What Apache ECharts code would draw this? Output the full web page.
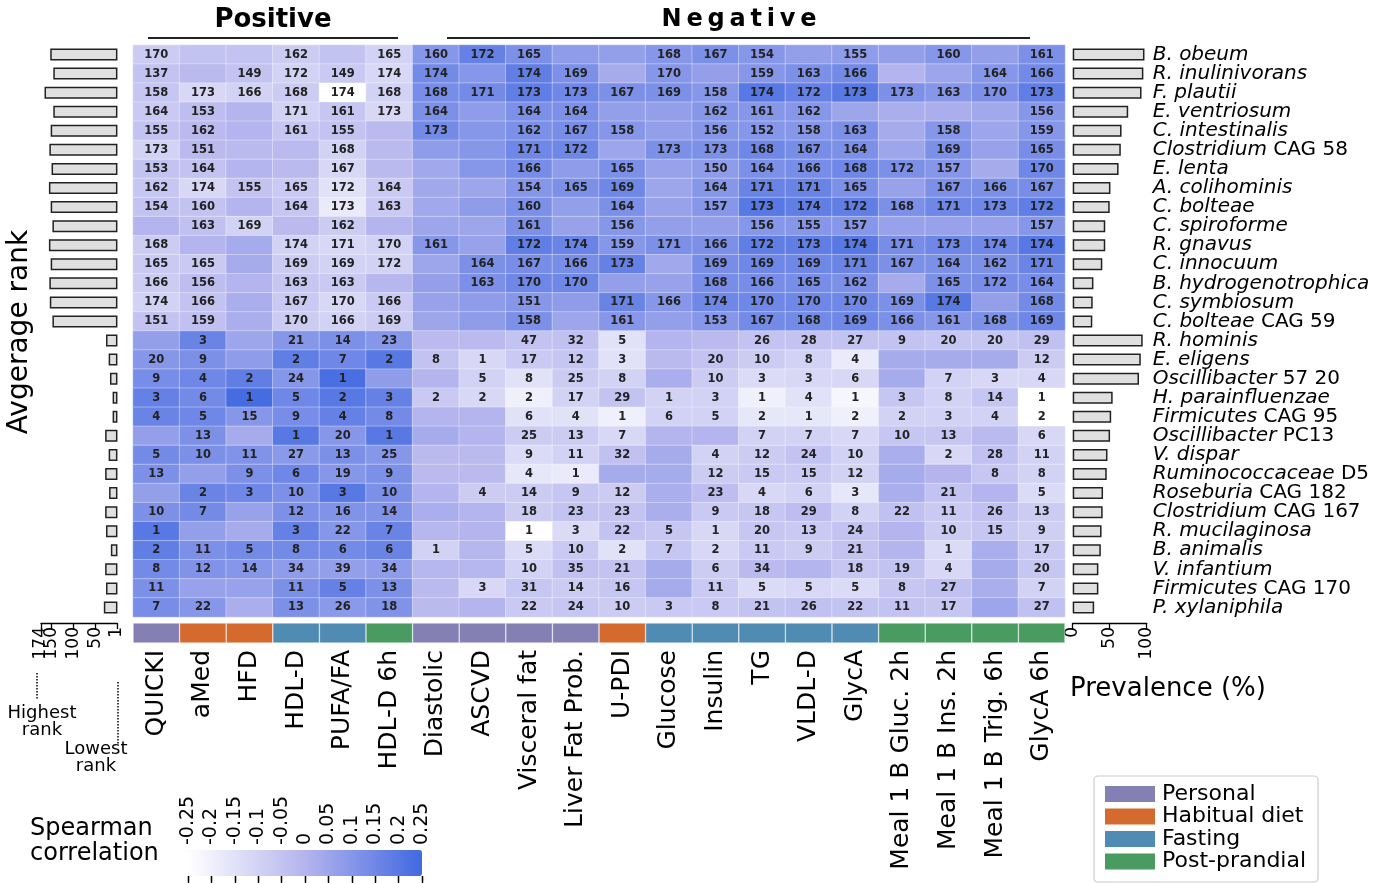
<!DOCTYPE html>
<html>
<head>
<meta charset="utf-8">
<script src="https://cdn.jsdelivr.net/npm/echarts@6/dist/echarts.min.js"></script>
<style>
html, body { margin: 0; padding: 0; background: #fff; }
#chart { width: 1387px; height: 883px; }
</style>
</head>
<body>
<div id="chart"></div>
<script>
const traits = ['QUICKI', 'aMed', 'HFD', 'HDL-D', 'PUFA/FA', 'HDL-D 6h', 'Diastolic', 'ASCVD',
    'Visceral fat', 'Liver Fat Prob.', 'U-PDI', 'Glucose', 'Insulin', 'TG', 'VLDL-D', 'GlycA',
    'Meal 1 B Gluc. 2h', 'Meal 1 B Ins. 2h', 'Meal 1 B Trig. 6h', 'GlycA 6h'];
// 0 personal, 1 habitual diet, 2 fasting, 3 post-prandial
const traitGroups = [0, 1, 1, 2, 2, 3, 0, 0, 0, 0, 1, 2, 2, 2, 2, 2, 3, 3, 3, 3];
const groupNames = ['Personal', 'Habitual diet', 'Fasting', 'Post-prandial'];
const groupColors = ['#8580b4', '#d56a2e', '#4f8bb2', '#4a9b62'];

const speciesItalic = ['B. obeum', 'R. inulinivorans', 'F. plautii', 'E. ventriosum', 'C. intestinalis',
    'Clostridium', 'E. lenta', 'A. colihominis', 'C. bolteae', 'C. spiroforme', 'R. gnavus',
    'C. innocuum', 'B. hydrogenotrophica', 'C. symbiosum', 'C. bolteae', 'R. hominis', 'E. eligens',
    'Oscillibacter', 'H. parainfluenzae', 'Firmicutes', 'Oscillibacter', 'V. dispar',
    'Ruminococcaceae', 'Roseburia', 'Clostridium', 'R. mucilaginosa', 'B. animalis', 'V. infantium',
    'Firmicutes', 'P. xylaniphila'];
const speciesRest = ['', '', '', '', '', 'CAG 58', '', '', '', '', '', '', '', '', 'CAG 59', '', '',
    '57 20', '', 'CAG 95', 'PC13', '', 'D5', 'CAG 182', 'CAG 167', '', '', '', 'CAG 170', ''];
const speciesNames = speciesItalic.map((s, i) => speciesRest[i] ? s + ' ' + speciesRest[i] : s);

const avgRank = [153, 146, 166, 146, 152, 155, 150, 156, 152, 148, 156, 152, 155, 154, 148,
    26, 20, 17, 11, 11, 28, 20, 28, 19, 28, 26, 15, 28, 26, 31];
const prevalence = [97, 95.5, 93, 75, 66, 65, 62, 51, 50, 44, 44, 40, 28, 27, 26.5,
    94.6, 92, 89.6, 54, 52, 50.5, 47, 46, 41, 40.5, 39, 38, 34.7, 34.7, 29];
const rankTicks = [1, 50, 100, 150];
const rankTop = [174];

// rank shown in the cell, 0 = not shown
const rankRows = [
    [170, 0, 0, 162, 0, 165, 160, 172, 165, 0, 0, 168, 167, 154, 0, 155, 0, 160, 0, 161],
    [137, 0, 149, 172, 149, 174, 174, 0, 174, 169, 0, 170, 0, 159, 163, 166, 0, 0, 164, 166],
    [158, 173, 166, 168, 174, 168, 168, 171, 173, 173, 167, 169, 158, 174, 172, 173, 173, 163, 170, 173],
    [164, 153, 0, 171, 161, 173, 164, 0, 164, 164, 0, 0, 162, 161, 162, 0, 0, 0, 0, 156],
    [155, 162, 0, 161, 155, 0, 173, 0, 162, 167, 158, 0, 156, 152, 158, 163, 0, 158, 0, 159],
    [173, 151, 0, 0, 168, 0, 0, 0, 171, 172, 0, 173, 173, 168, 167, 164, 0, 169, 0, 165],
    [153, 164, 0, 0, 167, 0, 0, 0, 166, 0, 165, 0, 150, 164, 166, 168, 172, 157, 0, 170],
    [162, 174, 155, 165, 172, 164, 0, 0, 154, 165, 169, 0, 164, 171, 171, 165, 0, 167, 166, 167],
    [154, 160, 0, 164, 173, 163, 0, 0, 160, 0, 164, 0, 157, 173, 174, 172, 168, 171, 173, 172],
    [0, 163, 169, 0, 162, 0, 0, 0, 161, 0, 156, 0, 0, 156, 155, 157, 0, 0, 0, 157],
    [168, 0, 0, 174, 171, 170, 161, 0, 172, 174, 159, 171, 166, 172, 173, 174, 171, 173, 174, 174],
    [165, 165, 0, 169, 169, 172, 0, 164, 167, 166, 173, 0, 169, 169, 169, 171, 167, 164, 162, 171],
    [166, 156, 0, 163, 163, 0, 0, 163, 170, 170, 0, 0, 168, 166, 165, 162, 0, 165, 172, 164],
    [174, 166, 0, 167, 170, 166, 0, 0, 151, 0, 171, 166, 174, 170, 170, 170, 169, 174, 0, 168],
    [151, 159, 0, 170, 166, 169, 0, 0, 158, 0, 161, 0, 153, 167, 168, 169, 166, 161, 168, 169],
    [0, 3, 0, 21, 14, 23, 0, 0, 47, 32, 5, 0, 0, 26, 28, 27, 9, 20, 20, 29],
    [20, 9, 0, 2, 7, 2, 8, 1, 17, 12, 3, 0, 20, 10, 8, 4, 0, 0, 0, 12],
    [9, 4, 2, 24, 1, 0, 0, 5, 8, 25, 8, 0, 10, 3, 3, 6, 0, 7, 3, 4],
    [3, 6, 1, 5, 2, 3, 2, 2, 2, 17, 29, 1, 3, 1, 4, 1, 3, 8, 14, 1],
    [4, 5, 15, 9, 4, 8, 0, 0, 6, 4, 1, 6, 5, 2, 1, 2, 2, 3, 4, 2],
    [0, 13, 0, 1, 20, 1, 0, 0, 25, 13, 7, 0, 0, 7, 7, 7, 10, 13, 0, 6],
    [5, 10, 11, 27, 13, 25, 0, 0, 9, 11, 32, 0, 4, 12, 24, 10, 0, 2, 28, 11],
    [13, 0, 9, 6, 19, 9, 0, 0, 4, 1, 0, 0, 12, 15, 15, 12, 0, 0, 8, 8],
    [0, 2, 3, 10, 3, 10, 0, 4, 14, 9, 12, 0, 23, 4, 6, 3, 0, 21, 0, 5],
    [10, 7, 0, 12, 16, 14, 0, 0, 18, 23, 23, 0, 9, 18, 29, 8, 22, 11, 26, 13],
    [1, 0, 0, 3, 22, 7, 0, 0, 1, 3, 22, 5, 1, 20, 13, 24, 0, 10, 15, 9],
    [2, 11, 5, 8, 6, 6, 1, 0, 5, 10, 2, 7, 2, 11, 9, 21, 0, 1, 0, 17],
    [8, 12, 14, 34, 39, 34, 0, 0, 10, 35, 21, 0, 6, 34, 0, 18, 19, 4, 0, 20],
    [11, 0, 0, 11, 5, 13, 0, 3, 31, 14, 16, 0, 11, 5, 5, 5, 8, 27, 0, 7],
    [7, 22, 0, 13, 26, 18, 0, 0, 22, 24, 10, 3, 8, 21, 26, 22, 11, 17, 0, 27]
];

// spearman correlation per cell
const corrRows = [
    [-0.08, -0.05, -0.05, -0.08, -0.05, -0.1, 0.1, 0.17, 0.12, 0.08, 0.07, 0.1, 0.12, 0.1, 0.07, 0.08, 0.07, 0.1, 0.07, 0.12],
    [-0.05, -0.02, -0.05, -0.1, -0.07, -0.12, 0.14, 0.1, 0.18, 0.12, 0.03, 0.1, 0.07, 0.1, 0.12, 0.14, 0.0, 0.05, 0.1, 0.14],
    [-0.06, -0.12, -0.1, -0.08, -0.25, -0.1, 0.13, 0.14, 0.18, 0.15, 0.12, 0.12, 0.1, 0.2, 0.17, 0.2, 0.12, 0.1, 0.12, 0.18],
    [-0.07, -0.03, 0.0, -0.1, -0.06, -0.12, 0.12, 0.08, 0.12, 0.12, 0.07, 0.07, 0.1, 0.1, 0.1, 0.05, 0.02, 0.02, 0.04, 0.1],
    [-0.05, -0.02, 0.0, -0.06, -0.05, -0.02, 0.14, 0.1, 0.12, 0.13, 0.1, 0.07, 0.1, 0.1, 0.1, 0.12, 0.03, 0.1, 0.05, 0.1],
    [-0.1, -0.02, -0.02, -0.02, -0.1, -0.02, 0.08, 0.1, 0.15, 0.15, 0.05, 0.12, 0.12, 0.15, 0.13, 0.12, 0.05, 0.12, 0.06, 0.13],
    [-0.05, -0.05, 0.0, -0.02, -0.12, -0.02, 0.04, 0.1, 0.13, 0.08, 0.12, 0.06, 0.08, 0.12, 0.13, 0.15, 0.12, 0.1, 0.03, 0.15],
    [-0.06, -0.12, -0.05, -0.07, -0.15, -0.07, 0.04, 0.05, 0.1, 0.12, 0.15, 0.05, 0.1, 0.16, 0.16, 0.12, 0.06, 0.12, 0.12, 0.13],
    [-0.05, -0.05, 0.0, -0.06, -0.18, -0.07, 0.04, 0.08, 0.12, 0.07, 0.12, 0.06, 0.1, 0.2, 0.18, 0.18, 0.12, 0.15, 0.15, 0.18],
    [0.0, -0.04, -0.1, -0.02, -0.08, 0.0, 0.05, 0.05, 0.12, 0.06, 0.1, 0.07, 0.07, 0.1, 0.1, 0.1, 0.06, 0.06, 0.06, 0.1],
    [-0.08, 0.0, 0.03, -0.1, -0.12, -0.1, 0.1, 0.06, 0.18, 0.16, 0.1, 0.12, 0.12, 0.18, 0.18, 0.2, 0.13, 0.15, 0.15, 0.2],
    [-0.07, -0.07, 0.03, -0.08, -0.1, -0.1, 0.05, 0.12, 0.13, 0.13, 0.17, 0.04, 0.13, 0.15, 0.15, 0.16, 0.12, 0.12, 0.12, 0.16],
    [-0.08, -0.03, 0.0, -0.06, -0.07, -0.01, 0.07, 0.12, 0.15, 0.15, 0.07, 0.06, 0.13, 0.13, 0.13, 0.12, 0.03, 0.12, 0.13, 0.13],
    [-0.1, -0.05, 0.02, -0.07, -0.12, -0.07, 0.06, 0.08, 0.1, 0.08, 0.16, 0.1, 0.15, 0.15, 0.15, 0.15, 0.12, 0.2, 0.07, 0.14],
    [-0.05, -0.04, 0.02, -0.08, -0.1, -0.08, 0.05, 0.08, 0.12, 0.05, 0.1, 0.07, 0.1, 0.14, 0.14, 0.15, 0.12, 0.1, 0.12, 0.15],
    [0.07, 0.16, 0.05, 0.1, 0.12, 0.1, -0.02, -0.02, -0.05, -0.04, -0.15, 0.0, -0.02, -0.05, -0.05, -0.05, -0.05, -0.06, -0.06, -0.04],
    [0.1, 0.12, 0.08, 0.18, 0.15, 0.2, -0.05, -0.12, -0.07, -0.06, -0.15, -0.02, -0.05, -0.08, -0.1, -0.18, 0.03, 0.03, 0.03, -0.08],
    [0.13, 0.15, 0.18, 0.1, 0.23, 0.08, 0.0, -0.1, -0.15, -0.08, -0.1, 0.02, -0.08, -0.13, -0.12, -0.12, 0.03, -0.1, -0.12, -0.12],
    [0.17, 0.14, 0.24, 0.15, 0.2, 0.17, -0.07, -0.12, -0.2, -0.1, -0.05, -0.1, -0.1, -0.2, -0.15, -0.22, -0.06, -0.1, -0.06, -0.25],
    [0.16, 0.15, 0.1, 0.13, 0.17, 0.14, 0.0, 0.0, -0.15, -0.15, -0.2, -0.1, -0.1, -0.17, -0.17, -0.2, -0.1, -0.1, -0.1, -0.25],
    [0.07, 0.12, 0.03, 0.2, 0.1, 0.2, 0.03, 0.0, -0.08, -0.08, -0.12, 0.0, 0.0, -0.1, -0.1, -0.12, -0.06, -0.06, -0.02, -0.12],
    [0.14, 0.12, 0.11, 0.09, 0.12, 0.1, -0.02, -0.02, -0.13, -0.1, -0.04, 0.03, -0.1, -0.08, -0.05, -0.1, 0.02, -0.12, -0.04, -0.1],
    [0.12, 0.07, 0.12, 0.15, 0.1, 0.12, -0.02, -0.02, -0.17, -0.18, 0.03, 0.03, -0.08, -0.07, -0.07, -0.1, 0.03, 0.0, -0.06, -0.1],
    [0.07, 0.16, 0.15, 0.12, 0.2, 0.12, 0.0, -0.08, -0.08, -0.06, -0.08, 0.02, -0.03, -0.12, -0.1, -0.17, 0.02, -0.05, 0.0, -0.13],
    [0.12, 0.14, 0.06, 0.12, 0.11, 0.11, 0.02, 0.0, -0.08, -0.05, -0.05, 0.02, -0.07, -0.06, -0.03, -0.1, -0.04, -0.07, -0.04, -0.08],
    [0.2, 0.07, 0.03, 0.17, 0.1, 0.16, -0.01, 0.0, -0.25, -0.13, -0.05, -0.06, -0.12, -0.06, -0.07, -0.05, 0.0, -0.08, -0.06, -0.09],
    [0.18, 0.12, 0.14, 0.14, 0.14, 0.16, -0.1, -0.01, -0.13, -0.07, -0.15, -0.06, -0.12, -0.07, -0.08, -0.05, 0.0, -0.13, 0.02, -0.07],
    [0.14, 0.11, 0.1, 0.08, 0.07, 0.08, -0.01, -0.01, -0.1, -0.04, -0.05, 0.03, -0.08, -0.02, 0.0, -0.06, -0.05, -0.12, 0.03, -0.06],
    [0.12, 0.06, 0.06, 0.12, 0.17, 0.12, -0.02, -0.12, -0.06, -0.08, -0.06, 0.03, -0.07, -0.13, -0.12, -0.13, -0.06, -0.04, 0.02, -0.1],
    [0.13, 0.1, 0.02, 0.12, 0.09, 0.11, -0.02, 0.0, -0.07, -0.06, -0.08, -0.07, -0.07, -0.05, -0.04, -0.05, -0.05, -0.06, 0.05, -0.04]
];

const FONT = 'DejaVu Sans';

var heatData = [];
corrRows.forEach(function (row, i) {
    row.forEach(function (v, j) {
        heatData.push([j, i, v, rankRows[i][j]]);
    });
});

var chart = echarts.init(document.getElementById('chart'));

var legendItems = [];
groupNames.forEach(function (g, k) {
    var cy = 794 + k * 22.5;
    legendItems.push({ type: 'rect', shape: { x: 1105, y: cy - 8, width: 50, height: 16 }, style: { fill: groupColors[k] } });
    legendItems.push({ type: 'text', x: 1162, y: cy, style: { text: g, font: '22px "DejaVu Sans"', fill: '#000', textVerticalAlign: 'middle' } });
});

var rankAxisBase = {
    gridIndex: 0, type: 'value', min: 1, max: 174, inverse: true, offset: 6,
    splitLine: { show: false }
};

var option = {
    animation: false,
    textStyle: { fontFamily: FONT },
    grid: [
        { left: 41, top: 45, width: 76, height: 572 },
        { left: 133, top: 45, width: 932, height: 572 },
        { left: 133, top: 623, width: 932, height: 20 },
        { left: 1072.7, top: 45, width: 74, height: 572 },
        { left: 188, top: 850, width: 234, height: 26 }
    ],
    xAxis: [
        Object.assign({}, rankAxisBase, {
            axisLine: { show: true, lineStyle: { color: '#000', width: 1.3 } },
            axisTick: { show: true, length: 6, customValues: rankTicks, lineStyle: { color: '#000', width: 1.3 } },
            axisLabel: { customValues: rankTicks, rotate: 90, fontSize: 17, color: '#000', margin: 4 }
        }),
        {
            gridIndex: 1, type: 'category', data: traits,
            axisLine: { show: false }, axisTick: { show: false },
            axisLabel: { rotate: 90, margin: 33, fontSize: 25, color: '#000', interval: 0 }
        },
        { gridIndex: 2, type: 'category', data: traits, show: false },
        {
            gridIndex: 3, type: 'value', min: 0, max: 100, interval: 50, offset: 6,
            axisLine: { show: true, lineStyle: { color: '#000', width: 1.3 } },
            axisTick: { show: true, length: 6, lineStyle: { color: '#000', width: 1.3 } },
            axisLabel: { rotate: 90, fontSize: 17, color: '#000', margin: 4 },
            splitLine: { show: false }
        },
        {
            gridIndex: 4, type: 'value', min: -0.25, max: 0.25, interval: 0.05, position: 'top',
            axisLine: { show: false },
            axisTick: { show: true, inside: true, length: 7, lineStyle: { color: '#000', width: 1.3 } },
            axisLabel: { rotate: 90, fontSize: 19, color: '#000', margin: 5 },
            splitLine: { show: false }
        },
        {
            gridIndex: 4, type: 'value', min: -0.25, max: 0.25, interval: 0.05, position: 'bottom',
            axisLine: { show: false },
            axisTick: { show: true, length: 6, lineStyle: { color: '#000', width: 1.3 } },
            axisLabel: { show: false },
            splitLine: { show: false }
        },
        // second copy of the rank axis, only for the 174 end label
        Object.assign({}, rankAxisBase, {
            position: 'bottom',
            axisLine: { show: false },
            axisTick: { show: true, length: 6, customValues: rankTop, lineStyle: { color: '#000', width: 1.3 } },
            axisLabel: { customValues: rankTop, rotate: 90, fontSize: 17, color: '#000', margin: 4, showMaxLabel: true }
        })
    ],
    yAxis: [
        { gridIndex: 0, type: 'category', data: speciesNames, inverse: true, show: false },
        { gridIndex: 1, type: 'category', data: speciesNames, inverse: true, show: false },
        { gridIndex: 2, type: 'value', min: 0, max: 1, show: false },
        {
            gridIndex: 3, type: 'category', data: speciesNames, inverse: true, position: 'right',
            axisLine: { show: false }, axisTick: { show: false },
            axisLabel: {
                margin: 6, color: '#000', fontSize: 20, interval: 0,
                formatter: function (v, i) {
                    return '{i|' + speciesItalic[i] + '}' + (speciesRest[i] ? '{n| ' + speciesRest[i] + '}' : '');
                },
                rich: {
                    i: { fontStyle: 'italic', fontSize: 20, color: '#000', fontFamily: FONT },
                    n: { fontSize: 20, color: '#000', fontFamily: FONT }
                }
            }
        },
        { gridIndex: 4, type: 'value', show: false }
    ],
    visualMap: {
        type: 'continuous', min: -0.25, max: 0.25, seriesIndex: 1, dimension: 2,
        orient: 'horizontal', left: 188, top: 850, itemWidth: 26, itemHeight: 234,
        padding: 0, calculable: false, hoverLink: false,
        inRange: { color: ['#ffffff', '#b4b4ee', '#4169e1'] }
    },
    series: [
        {
            type: 'bar', xAxisIndex: 0, yAxisIndex: 0, data: avgRank, barWidth: 12,
            itemStyle: { color: '#e0e0e0', borderColor: '#222', borderWidth: 1.5 }
        },
        {
            type: 'heatmap', xAxisIndex: 1, yAxisIndex: 1, data: heatData,
            itemStyle: { borderColor: 'rgba(255,255,255,0.45)', borderWidth: 0.8 },
            label: {
                show: true, fontSize: 11.5, fontWeight: 'bold', color: '#222',
                formatter: function (p) { return p.data[3] ? String(p.data[3]) : ''; }
            },
            emphasis: { disabled: true }
        },
        {
            type: 'bar', xAxisIndex: 2, yAxisIndex: 2, barWidth: '100%',
            data: traitGroups.map(function (g) {
                return { value: 1, itemStyle: { color: groupColors[g] } };
            }),
            itemStyle: { borderColor: 'rgba(255,255,255,0.6)', borderWidth: 0.6 }
        },
        {
            type: 'bar', xAxisIndex: 3, yAxisIndex: 3, data: prevalence, barWidth: 12,
            itemStyle: { color: '#e0e0e0', borderColor: '#222', borderWidth: 1.5 }
        }
    ],
    graphic: [
        { type: 'text', x: 273, y: 20, style: { text: 'Positive', font: 'bold 26px "DejaVu Sans"', fill: '#000', textAlign: 'center', textVerticalAlign: 'middle' } },
        { type: 'text', x: 739, y: 20, style: { text: 'N\u2009e\u2009g\u2009a\u2009t\u2009i\u2009v\u2009e', font: 'bold 24px "DejaVu Sans"', fill: '#000', textAlign: 'center', textVerticalAlign: 'middle' } },
        { type: 'line', shape: { x1: 148, y1: 38, x2: 398, y2: 38 }, style: { stroke: '#222', lineWidth: 2 } },
        { type: 'line', shape: { x1: 447, y1: 38, x2: 1030, y2: 38 }, style: { stroke: '#222', lineWidth: 2 } },
        { type: 'text', x: 20, y: 332, rotation: Math.PI / 2, style: { text: 'Avgerage rank', font: '28px "DejaVu Sans"', fill: '#000', textAlign: 'center', textVerticalAlign: 'middle' } },
        { type: 'line', shape: { x1: 37, y1: 673, x2: 37, y2: 700 }, style: { stroke: '#000', lineWidth: 1.5, lineDash: [1.5, 1.5] } },
        { type: 'line', shape: { x1: 118, y1: 682, x2: 118, y2: 744 }, style: { stroke: '#000', lineWidth: 1.5, lineDash: [1.5, 1.5] } },
        { type: 'text', x: 42, y: 722, style: { text: 'Highest\nrank', font: '18px "DejaVu Sans"', lineHeight: 17, fill: '#000', textAlign: 'center', textVerticalAlign: 'middle' } },
        { type: 'text', x: 96, y: 758, style: { text: 'Lowest\nrank', font: '18px "DejaVu Sans"', lineHeight: 17, fill: '#000', textAlign: 'center', textVerticalAlign: 'middle' } },
        { type: 'text', x: 1070, y: 689, style: { text: 'Prevalence (%)', font: '26px "DejaVu Sans"', fill: '#000', textVerticalAlign: 'middle' } },
        { type: 'text', x: 30, y: 841, style: { text: 'Spearman\ncorrelation', font: '24px "DejaVu Sans"', lineHeight: 25, fill: '#000', textVerticalAlign: 'middle' } },
        { type: 'rect', shape: { x: 1094, y: 776, width: 224, height: 106, r: 4 }, style: { fill: '#fff', stroke: '#cccccc', lineWidth: 1.2 } }
    ].concat(legendItems)
};

chart.setOption(option);
</script>
</body>
</html>
